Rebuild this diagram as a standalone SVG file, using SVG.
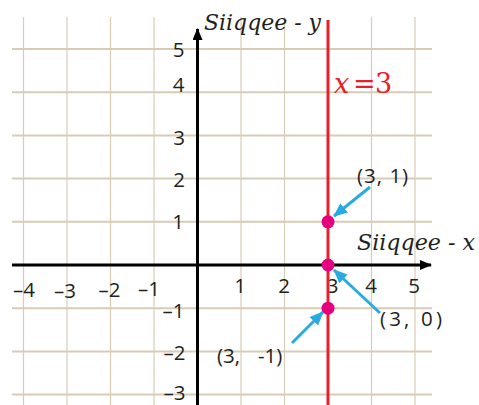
<svg xmlns="http://www.w3.org/2000/svg" width="479" height="405" viewBox="0 0 479 405">
<style>
.gv{stroke:#d8ccb6;stroke-width:1.2;fill:none}
.gh{stroke:#d8ccb6;stroke-width:2;fill:none}
.axis{stroke:#000;stroke-width:3;fill:none}
.num{font-family:"Open Sans","Noto Sans",sans-serif;font-size:20.5px;fill:#231f20}
.ttl{font-family:"DejaVu Serif","Liberation Serif",serif;font-style:italic;font-size:23px;fill:#231f20}
.lbl{font-family:"Open Sans","Noto Sans",sans-serif;font-size:20.5px;fill:#231f20}
.red{font-family:"DejaVu Serif","Liberation Serif",serif;font-size:27px;fill:#e8202a}
.pt{fill:#e6007e}
.con{stroke:#29abe2;stroke-width:3;fill:none}
</style>
<defs>
<marker id="ah" markerUnits="userSpaceOnUse" markerWidth="12" markerHeight="10" refX="11" refY="5" orient="auto">
<path d="M0,0 L12,5 L0,10 z" fill="#000"/>
</marker>
<marker id="bh" markerUnits="userSpaceOnUse" markerWidth="14" markerHeight="12" refX="13" refY="6" orient="auto">
<path d="M0,0 L14,6 L0,12 z" fill="#29abe2"/>
</marker>
</defs>
<rect width="479" height="405" fill="#fff"/>
<g id="grid">
<path class="gv" d="M23.5,17V405M67,17V405M110.5,17V405M154,17V405M241,17V405M284.5,17V405M371.5,17V405M415,17V405"/>
<path class="gh" d="M12,49H432M12,92.2H432M12,135.4H432M12,178.6H432M12,221.8H432M12,308.2H432M12,351.4H432M12,394.6H432"/>
</g>
<g id="axes">
<line class="axis" x1="12" y1="265" x2="431" y2="265" marker-end="url(#ah)"/>
<line class="axis" x1="197.5" y1="405" x2="197.5" y2="29" marker-end="url(#ah)"/>
<text class="ttl" x="204" y="30" textLength="117" lengthAdjust="spacingAndGlyphs">Siiqqee - y</text>
<text class="ttl" x="357" y="250" textLength="118" lengthAdjust="spacingAndGlyphs">Siiqqee - x</text>
</g>
<g id="ticks">
<text class="num" x="184.5" y="57" text-anchor="end">5</text>
<text class="num" x="184.5" y="92" text-anchor="end">4</text>
<text class="num" x="185" y="145" text-anchor="end">3</text>
<text class="num" x="185" y="187" text-anchor="end">2</text>
<text class="num" x="184" y="229" text-anchor="end">1</text>
<text class="num" x="184.5" y="318" text-anchor="end">–1</text>
<text class="num" x="185.5" y="360" text-anchor="end">–2</text>
<text class="num" x="185.5" y="400" text-anchor="end">–3</text>
<text class="num" x="24" y="297" text-anchor="middle">–4</text>
<text class="num" x="65" y="298" text-anchor="middle">–3</text>
<text class="num" x="109.5" y="297" text-anchor="middle">–2</text>
<text class="num" x="149" y="296" text-anchor="middle">–1</text>
<text class="num" x="240" y="293" text-anchor="middle">1</text>
<text class="num" x="284" y="293" text-anchor="middle">2</text>
<text class="num" x="332.5" y="293" text-anchor="middle">3</text>
<text class="num" x="371" y="293" text-anchor="middle">4</text>
<text class="num" x="414" y="293" text-anchor="middle">5</text>
</g>
<g id="line-x3">
<line x1="328" y1="20" x2="328" y2="405" stroke="#e8202a" stroke-width="3"/>
<text class="red" y="93"><tspan x="334" font-style="italic">x</tspan><tspan x="353">=</tspan><tspan x="375">3</tspan></text>
</g>
<g id="connectors">
<line class="con" x1="370" y1="187" x2="334" y2="216" marker-end="url(#bh)"/>
<line class="con" x1="380" y1="313" x2="334" y2="270" marker-end="url(#bh)"/>
<line class="con" x1="292" y1="343" x2="323" y2="312" marker-end="url(#bh)"/>
</g>
<g id="p31">
<circle class="pt" cx="328" cy="221.8" r="6.5"/>
<text class="lbl" x="357" y="183" letter-spacing="1">(3, 1)</text>
</g>
<g id="p30">
<circle class="pt" cx="328" cy="265" r="6.5"/>
<text class="lbl" x="380" y="326" textLength="62" lengthAdjust="spacing">(3, 0)</text>
</g>
<g id="p3m1">
<circle class="pt" cx="328" cy="308.2" r="6.5"/>
<text class="lbl" x="217" y="363">(3,</text>
<text class="lbl" x="258" y="363">-1)</text>
</g>
</svg>
